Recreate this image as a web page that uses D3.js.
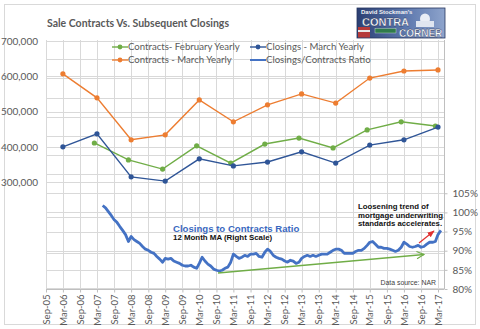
<!DOCTYPE html>
<html lang="en">
<head>
<meta charset="utf-8">
<title>Sale Contracts Vs. Subsequent Closings</title>
<script src="https://d3js.org/d3.v7.min.js"></script>
<style>
  body { margin: 0; background: #fff; }
  svg text { font-family: Lato, "Open Sans", sans-serif; }
  .tick-lbl { fill: #595959; font-size: 9.5px; }
  .note { font-family: "Liberation Sans", Arial, sans-serif !important; font-weight: bold; }
</style>
</head>
<body>
<script>
// annual points (March of each year; February contracts start in 2007)
var years = [2006, 2007, 2008, 2009, 2010, 2011, 2012, 2013, 2014, 2015, 2016, 2017];
var contractsMarch = [607000, 539000, 420000, 434000, 533000, 471000, 519000, 550000, 524000, 595000, 615000, 618000];
var closingsMarch = [400000, 437000, 315000, 303000, 366000, 346000, 357000, 386000, 354000, 405000, 420000, 456000];
var contractsFeb = [null, 411000, 363000, 337000, 403000, 354000, 408000, 425000, 397000, 448000, 471000, 459000];

// closings / contracts ratio, 12 month MA, monthly from May 2007 (percent)
var ratioStart = new Date(2007, 4, 1);
var ratio = [
  101.8, 101.2, 100.2, 99.2, 98.1, 97.4, 96.3, 95.3, 94.2, 92.4, 93.7, 92.9,
  92.4, 91.9, 91.1, 90.4, 90.1, 89.6, 89.3, 88.5, 87.8, 87.0, 88.0, 87.8,
  88.0, 87.3, 87.0, 86.7, 86.2, 86.0, 86.0, 86.2, 85.7, 85.4, 86.7, 88.3,
  87.3, 86.5, 86.0, 85.2, 84.9, 84.7, 84.9, 85.4, 85.7, 87.0, 89.1, 88.5,
  88.0, 88.3, 88.8, 88.5, 89.1, 89.1, 89.3, 88.5, 88.3, 89.6, 90.4, 89.8,
  88.8, 88.3, 88.0, 87.8, 87.3, 87.0, 87.5, 87.3, 86.7, 87.0, 88.0, 88.5,
  88.8, 88.5, 88.8, 88.5, 88.8, 89.1, 89.1, 89.1, 89.6, 90.1, 90.4, 90.4,
  90.1, 89.3, 89.3, 89.3, 89.3, 89.8, 90.1, 90.1, 90.6, 91.4, 92.2, 92.4,
  91.7, 90.9, 90.9, 90.6, 90.6, 90.4, 90.1, 89.8, 90.1, 90.9, 92.2, 91.7,
  91.1, 90.9, 91.1, 91.4, 90.9, 91.1, 91.7, 92.2, 92.2, 92.4, 94.2, 95.3
];

var leftTicks = [300000, 400000, 500000, 600000, 700000];
var rightTicks = [80, 85, 90, 95, 100, 105];
// category axis: every six months, Sep-05 .. Mar-17
var firstTick = new Date(2005, 8, 1);
var monthTicks = d3.range(24).map(function(i) { return d3.timeMonth.offset(firstTick, i * 6); });

var width = 480, height = 329;
var plotLeft = 46, plotRight = 444, plotTop = 40, plotBottom = 289;

var svg = d3.select("body").append("svg")
    .attr("width", width)
    .attr("height", height);

// chart frame
svg.append("rect")
    .attr("x", 4.5).attr("y", 4.5)
    .attr("width", 471).attr("height", 320)
    .attr("fill", "#fff")
    .attr("stroke", "#d9d9d9");

var x = d3.scaleTime()
    .domain([firstTick, new Date(2017, 2, 1)])
    .range([46, 438]);

var yLeft = d3.scaleLinear()
    .domain([0, 700000])
    .range([288, 41]);

var yRight = d3.scaleLinear()
    .domain([80, 100])
    .range([289, 212.4]);

// gridlines
var grid = svg.append("g").attr("stroke", "#d9d9d9").attr("stroke-width", 1);
grid.selectAll(".vg")
    .data(monthTicks)
    .enter().append("line")
    .attr("x1", function(d) { return Math.round(x(d)) + 0.5; })
    .attr("x2", function(d) { return Math.round(x(d)) + 0.5; })
    .attr("y1", plotTop).attr("y2", plotBottom);
grid.selectAll(".hl")
    .data(d3.range(0, 700001, 100000))
    .enter().append("line")
    .attr("x1", plotLeft).attr("x2", plotRight)
    .attr("y1", function(d) { return Math.round(yLeft(d)) + 0.5; })
    .attr("y2", function(d) { return Math.round(yLeft(d)) + 0.5; });
grid.selectAll(".hr")
    .data(d3.range(80, 141, 5))
    .enter().append("line")
    .attr("x1", plotLeft).attr("x2", plotRight)
    .attr("y1", function(d) { return Math.round(yRight(d)) + 0.5; })
    .attr("y2", function(d) { return Math.round(yRight(d)) + 0.5; });

// axes
var xAxis = svg.append("g")
    .attr("transform", "translate(0," + (plotBottom + 0.5) + ")")
    .call(d3.axisBottom(x).tickValues(monthTicks).tickFormat(d3.timeFormat("%b-%y")).tickSize(3).tickSizeOuter(0));
xAxis.select(".domain").attr("stroke", "#bfbfbf").attr("d", "M" + plotLeft + ",0H" + plotRight);
xAxis.selectAll(".tick line").attr("stroke", "#bfbfbf");
xAxis.selectAll(".tick text")
    .attr("class", "tick-lbl")
    .attr("transform", "rotate(-90)")
    .attr("text-anchor", "end")
    .attr("x", -5).attr("y", 0).attr("dy", "0.33em")
    .style("font-size", "9.5px");

var leftAxis = svg.append("g")
    .attr("transform", "translate(" + plotLeft + ",0)")
    .call(d3.axisLeft(yLeft).tickValues(leftTicks).tickFormat(d3.format(",")).tickSize(0).tickPadding(8));
leftAxis.select(".domain").remove();
leftAxis.selectAll("text").attr("class", "tick-lbl").style("font-size", "10px");

var rightAxis = svg.append("g")
    .attr("transform", "translate(" + (plotRight + 0.5) + ",0)")
    .call(d3.axisRight(yRight).tickValues(rightTicks).tickFormat(function(d) { return d + "%"; }).tickSize(3).tickPadding(5));
rightAxis.select(".domain").attr("stroke", "#bfbfbf").attr("d", "M0," + plotTop + "V" + plotBottom);
rightAxis.selectAll(".tick line").attr("stroke", "#bfbfbf");
rightAxis.selectAll("text").attr("class", "tick-lbl").style("font-size", "10px");

// annual series
function yearDate(yr, month) { return new Date(yr, month, 1); }

var series = [
  { name: "Contracts - March Yearly", values: contractsMarch, month: 2, color: "#ED7D31" },
  { name: "Contracts- February Yearly", values: contractsFeb, month: 1, color: "#70AD47" },
  { name: "Closings - March Yearly", values: closingsMarch, month: 2, color: "#2F5597" }
];

series.forEach(function(s) {
  var pts = years.map(function(yr, i) { return { date: yearDate(yr, s.month), v: s.values[i] }; })
      .filter(function(p) { return p.v != null; });
  var line = d3.line()
      .x(function(p) { return x(p.date); })
      .y(function(p) { return yLeft(p.v); });
  svg.append("path")
      .datum(pts)
      .attr("fill", "none")
      .attr("stroke", s.color)
      .attr("stroke-width", 1.4)
      .attr("d", line);
  svg.append("g").selectAll("circle")
      .data(pts)
      .enter().append("circle")
      .attr("cx", function(p) { return x(p.date); })
      .attr("cy", function(p) { return yLeft(p.v); })
      .attr("r", 2.6)
      .attr("fill", s.color);
});

// ratio line (right scale)
var ratioPts = ratio.map(function(v, i) { return { date: d3.timeMonth.offset(ratioStart, i), v: v }; });
svg.append("path")
    .datum(ratioPts)
    .attr("fill", "none")
    .attr("stroke", "#4472C4")
    .attr("stroke-width", 2.8)
    .attr("stroke-linejoin", "round")
    .attr("d", d3.line()
        .x(function(p) { return x(p.date); })
        .y(function(p) { return yRight(p.v); }));

// trend arrows
var defs = svg.append("defs");
defs.append("marker")
    .attr("id", "openHead")
    .attr("viewBox", "0 0 10 10").attr("refX", 9).attr("refY", 5)
    .attr("markerWidth", 7).attr("markerHeight", 7)
    .attr("orient", "auto")
    .append("path").attr("d", "M1,1L9,5L1,9")
    .attr("fill", "none").attr("stroke", "#70AD47").attr("stroke-width", 1.3);
defs.append("marker")
    .attr("id", "redHead")
    .attr("viewBox", "0 0 10 10").attr("refX", 9).attr("refY", 5)
    .attr("markerWidth", 6).attr("markerHeight", 6)
    .attr("orient", "auto")
    .append("path").attr("d", "M0,1L10,5L0,9Z")
    .attr("fill", "#E03030");

svg.append("line")
    .attr("x1", 218).attr("y1", 273).attr("x2", 424).attr("y2", 254.5)
    .attr("stroke", "#70AD47").attr("stroke-width", 1.3)
    .attr("marker-end", "url(#openHead)");
svg.append("line")
    .attr("x1", 419).attr("y1", 243).attr("x2", 434).attr("y2", 231)
    .attr("stroke", "#E03030").attr("stroke-width", 1.2)
    .attr("marker-end", "url(#redHead)");

// title
svg.append("text")
    .attr("x", 138).attr("y", 27)
    .attr("text-anchor", "middle")
    .attr("fill", "#595959")
    .style("font-size", "10.5px").style("font-weight", "bold")
    .text("Sale Contracts Vs. Subsequent Closings");

// legend
var legendItems = [
  { name: "Contracts- February Yearly", color: "#70AD47", marker: true, x: 112, y: 47 },
  { name: "Contracts - March Yearly", color: "#ED7D31", marker: true, x: 112, y: 60 },
  { name: "Closings - March Yearly", color: "#2F5597", marker: true, x: 250, y: 47 },
  { name: "Closings/Contracts Ratio", color: "#4472C4", marker: false, x: 250, y: 60 }
];
var lg = svg.append("g").selectAll("g")
    .data(legendItems)
    .enter().append("g")
    .attr("transform", function(d) { return "translate(" + d.x + "," + d.y + ")"; });
lg.append("line")
    .attr("x1", 0).attr("x2", 16).attr("y1", 0).attr("y2", 0)
    .attr("stroke", function(d) { return d.color; })
    .attr("stroke-width", function(d) { return d.marker ? 1.4 : 2; });
lg.filter(function(d) { return d.marker; }).append("circle")
    .attr("cx", 8).attr("cy", 0).attr("r", 2.4)
    .attr("fill", function(d) { return d.color; });
lg.append("text")
    .attr("x", 16).attr("y", 0).attr("dy", "0.35em")
    .attr("fill", "#595959")
    .style("font-size", "9.6px")
    .text(function(d) { return d.name; });

// annotations
svg.append("text")
    .attr("class", "note")
    .attr("x", 173).attr("y", 231.5)
    .attr("fill", "#3A68C0")
    .style("font-size", "9.6px")
    .text("Closings to Contracts Ratio");
svg.append("text")
    .attr("class", "note")
    .attr("x", 173).attr("y", 240)
    .attr("fill", "#111")
    .style("font-size", "7.9px")
    .text("12 Month MA (Right Scale)");

var noteLines = ["Loosening trend of", "mortgage underwriting", "standards accelerates."];
svg.append("g").selectAll("text")
    .data(noteLines)
    .enter().append("text")
    .attr("class", "note")
    .attr("x", 358)
    .attr("y", function(d, i) { return 209 + i * 8.6; })
    .attr("fill", "#111")
    .style("font-size", "7.8px")
    .text(function(d) { return d; });

svg.append("text")
    .attr("x", 436).attr("y", 284.5)
    .attr("text-anchor", "end")
    .attr("fill", "#404040")
    .style("font-family", "'Liberation Sans', Arial, sans-serif")
    .style("font-size", "6.9px")
    .text("Data source: NAR");

// Contra Corner badge
var grad = defs.append("linearGradient").attr("id", "badgeSky");
grad.append("stop").attr("offset", "0%").attr("stop-color", "#2b3f73");
grad.append("stop").attr("offset", "55%").attr("stop-color", "#5c77ad");
grad.append("stop").attr("offset", "100%").attr("stop-color", "#8ea4cc");

var badge = svg.append("g");
badge.append("rect")
    .attr("x", 357).attr("y", 8).attr("width", 88).attr("height", 30)
    .attr("fill", "url(#badgeSky)").attr("stroke", "#26365e").attr("stroke-width", 0.8);
badge.append("rect")
    .attr("x", 358).attr("y", 27).attr("width", 12).attr("height", 10.5)
    .attr("fill", "#b53a3a");
badge.append("rect")
    .attr("x", 358).attr("y", 30).attr("width", 12).attr("height", 2)
    .attr("fill", "#e8e8e8");
badge.append("ellipse")
    .attr("cx", 425).attr("cy", 19).attr("rx", 5).attr("ry", 5.5)
    .attr("fill", "#e9edf5");
badge.append("rect")
    .attr("x", 416).attr("y", 21).attr("width", 18).attr("height", 6)
    .attr("fill", "#dfe5f0");
badge.append("rect")
    .attr("x", 375).attr("y", 28.5).attr("width", 21).attr("height", 4.5)
    .attr("fill", "#2f7a4b").attr("stroke", "#d8e8dc").attr("stroke-width", 0.4);
badge.append("text")
    .attr("x", 361).attr("y", 14)
    .attr("fill", "#f2f2f2")
    .style("font-family", "'Liberation Sans', Arial, sans-serif")
    .style("font-size", "6px").style("font-weight", "bold")
    .text("David Stockman's");
badge.append("text")
    .attr("x", 362).attr("y", 26)
    .attr("fill", "#ffffff")
    .attr("stroke", "#1c2b52").attr("stroke-width", 0.3)
    .style("font-family", "'Liberation Sans', Arial, sans-serif")
    .style("font-size", "11px").style("font-weight", "bold")
    .text("CONTRA");
badge.append("text")
    .attr("x", 399).attr("y", 36.5)
    .attr("fill", "#ffffff")
    .attr("stroke", "#1c2b52").attr("stroke-width", 0.3)
    .style("font-family", "'Liberation Sans', Arial, sans-serif")
    .style("font-size", "10px").style("font-weight", "bold")
    .text("CORNER");
</script>
</body>
</html>
